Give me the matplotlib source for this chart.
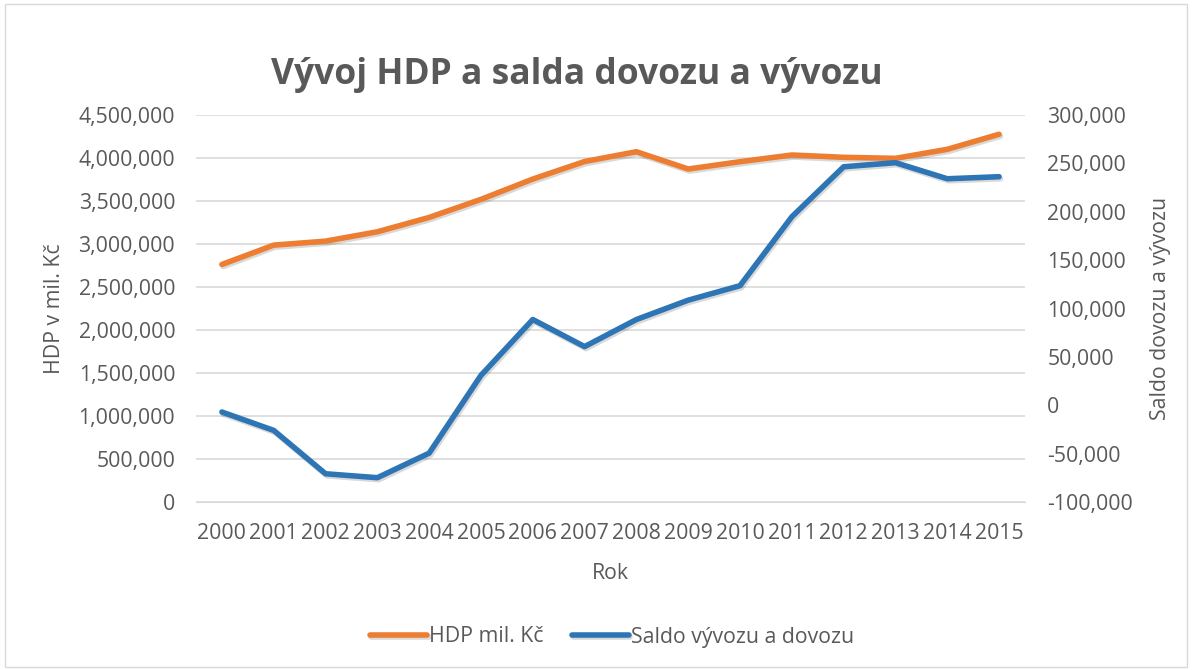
import matplotlib.pyplot as plt
import matplotlib.patheffects as pe
from matplotlib.ticker import FuncFormatter

plt.rcParams['font.family'] = ['Open Sans', 'DejaVu Sans']

years = [2000, 2001, 2002, 2003, 2004, 2005, 2006, 2007,
         2008, 2009, 2010, 2011, 2012, 2013, 2014, 2015]
hdp = [2762000, 2987000, 3033000, 3142000, 3309000, 3519000, 3755000, 3959000,
       4073000, 3872000, 3957000, 4035000, 4008000, 3996000, 4101000, 4276000]
saldo = [-7000, -26000, -70800, -74900, -49500, 30900, 88600, 60600,
         88600, 108600, 123600, 194800, 246500, 250700, 234100, 236200]

grey = '#595959'
orange = '#ed7d31'
blue = '#2e75b6'
fs = 15.3

fig = plt.figure(figsize=(11.92, 6.7), dpi=100)
ax = fig.add_axes([196 / 1192, 1 - 502 / 670, (1025 - 196) / 1192, (502 - 115) / 670])
ax2 = ax.twinx()

x = list(range(len(years)))
shadow = [pe.SimpleLineShadow(offset=(1, -1.5), shadow_color='k', alpha=0.15), pe.Normal()]
l1, = ax.plot(x, hdp, color=orange, lw=4, solid_capstyle='round',
              solid_joinstyle='round', path_effects=shadow, label='HDP mil. Kč')
l2, = ax2.plot(x, saldo, color=blue, lw=4, solid_capstyle='round',
               solid_joinstyle='round', path_effects=shadow, label='Saldo vývozu a dovozu')

ax.set_xlim(-0.5, len(years) - 0.5)
ax.set_ylim(0, 4500000)
ax.set_yticks(range(0, 4500001, 500000))
ax2.set_ylim(-100000, 300000)
ax2.set_yticks(range(-100000, 300001, 50000))
ax.set_xticks(x)
ax.set_xticklabels([str(y) for y in years])

fmt = FuncFormatter(lambda v, p: f'{int(v):,}')
ax.yaxis.set_major_formatter(fmt)
ax2.yaxis.set_major_formatter(fmt)

ax.grid(axis='y', color='#d9d9d9', lw=1.2)
ax.set_axisbelow(True)
for a in (ax, ax2):
    for s in a.spines.values():
        s.set_visible(False)
    a.tick_params(length=0, labelsize=fs, colors=grey)
ax.spines['bottom'].set_visible(True)
ax.spines['bottom'].set_color('#d9d9d9')
ax.tick_params(axis='y', pad=15)
ax2.tick_params(axis='y', pad=16)
ax.tick_params(axis='x', pad=15)

ax.set_ylabel('HDP v mil. Kč', fontsize=fs, color=grey, labelpad=10)
ax2.set_ylabel('Saldo dovozu a vývozu', fontsize=fs, color=grey, rotation=90, labelpad=12)
ax.set_xlabel('Rok', fontsize=fs, color=grey, labelpad=14)

fig.text(577 / 1192, 1 - 75 / 670, 'Vývoj HDP a salda dovozu a vývozu',
         ha='center', va='center', fontsize=25.5, fontweight='bold', color=grey)

fig.legend(handles=[l1, l2], loc='center', bbox_to_anchor=(612 / 1192, 1 - 637 / 670),
           ncol=2, frameon=False, fontsize=fs, labelcolor=grey, handlelength=2.7,
           handletextpad=0.1, columnspacing=1.3)

fig.patches.append(plt.Rectangle((0.004, 0.004), 0.992, 0.99, transform=fig.transFigure,
                                 fill=False, edgecolor='#d9d9d9', lw=1))

fig.savefig('out.png', dpi=100)
